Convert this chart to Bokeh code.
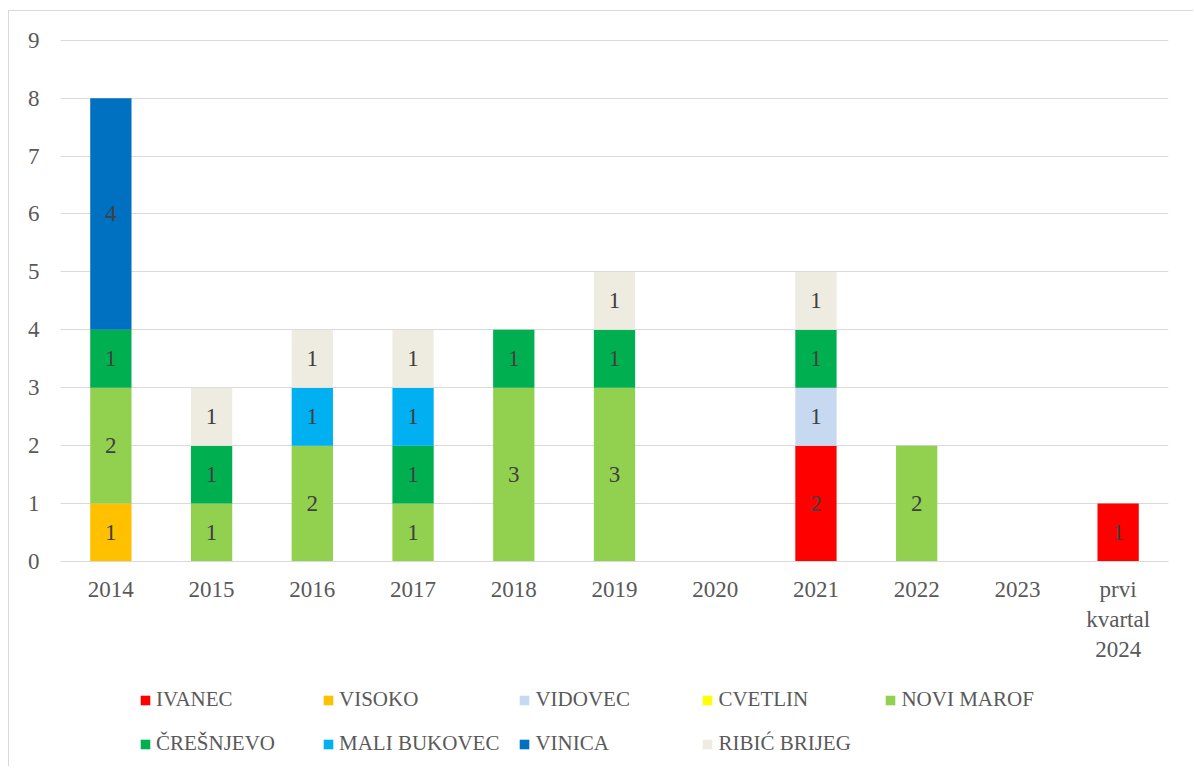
from bokeh.plotting import figure
from bokeh.layouts import column
from bokeh.models import ColumnDataSource, FactorRange, Range1d, Legend, LegendItem, FixedTicker
from bokeh.embed import file_html
from bokeh.resources import INLINE
from bokeh.core.properties import value

categories = ["2014", "2015", "2016", "2017", "2018", "2019", "2020", "2021", "2022", "2023",
              "prvi\nkvartal\n2024"]
series_names = ["IVANEC", "VISOKO", "VIDOVEC", "CVETLIN", "NOVI MAROF",
                "ČREŠNJEVO", "MALI BUKOVEC", "VINICA", "RIBIĆ BRIJEG"]
ivanec       = [0, 0, 0, 0, 0, 0, 0, 2, 0, 0, 1]
visoko       = [1, 0, 0, 0, 0, 0, 0, 0, 0, 0, 0]
vidovec      = [0, 0, 0, 0, 0, 0, 0, 1, 0, 0, 0]
cvetlin      = [0, 0, 0, 0, 0, 0, 0, 0, 0, 0, 0]
novi_marof   = [2, 1, 2, 1, 3, 3, 0, 0, 2, 0, 0]
cresnjevo    = [1, 1, 0, 1, 1, 1, 0, 1, 0, 0, 0]
mali_bukovec = [0, 0, 1, 1, 0, 0, 0, 0, 0, 0, 0]
vinica       = [4, 0, 0, 0, 0, 0, 0, 0, 0, 0, 0]
ribic_brijeg = [0, 1, 1, 1, 0, 1, 0, 1, 0, 0, 0]
colors = ["#FF0000", "#FFC000", "#C6D9F0", "#FFFF00", "#92D050",
          "#00B050", "#00B0F0", "#0070C0", "#EEECE1"]
y_ticks = [0, 1, 2, 3, 4, 5, 6, 7, 8, 9]

series_values = [ivanec, visoko, vidovec, cvetlin, novi_marof,
                 cresnjevo, mali_bukovec, vinica, ribic_brijeg]
keys = ["s%d" % i for i in range(len(series_names))]
data = {"cat": categories}
for k, v in zip(keys, series_values):
    data[k] = v
source = ColumnDataSource(data)

FONT = "Liberation Serif"

p = figure(x_range=FactorRange(factors=categories), y_range=Range1d(0, 9.03),
           width=1184, height=654, output_backend="svg", toolbar_location=None,
           min_border_left=51, min_border_top=27, min_border_right=25, min_border_bottom=104)
p.outline_line_color = None
p.background_fill_color = "white"

renderers = p.vbar_stack(keys, x="cat", width=0.41, color=colors, source=source, line_color=None)

# data labels
lx, ly, lt = [], [], []
for i, cat in enumerate(categories):
    bottom = 0
    for vals in series_values:
        v = vals[i]
        if v:
            lx.append(cat)
            ly.append(bottom + v / 2)
            lt.append(str(v))
        bottom += v
p.text(x=lx, y=ly, text=lt, text_align="center", text_baseline="middle",
       text_font=value(FONT), text_font_size="23px", text_color="#404040")

p.xgrid.grid_line_color = None
p.ygrid.grid_line_color = "#d9d9d9"
p.ygrid.grid_line_width = 1
p.yaxis.ticker = FixedTicker(ticks=y_ticks)

p.yaxis.axis_line_color = None
p.yaxis.major_tick_line_color = None
p.yaxis.minor_tick_line_color = None
p.yaxis.major_tick_out = 0
p.yaxis.major_label_standoff = 21
p.xaxis.axis_line_color = "#d9d9d9"
p.xaxis.major_tick_line_color = None
p.xaxis.major_tick_out = 0
p.xaxis.major_label_standoff = 15
for ax in (p.xaxis, p.yaxis):
    ax.major_label_text_font = FONT
    ax.major_label_text_font_size = "23px"
    ax.major_label_text_color = "#595959"

# legend in a second figure below the chart (its bars lie outside the visible range)
p2 = figure(width=1184, height=101, output_backend="svg", toolbar_location=None,
            x_range=FactorRange(factors=categories), y_range=Range1d(100, 101),
            min_border_left=51, min_border_right=25, min_border_top=0, min_border_bottom=0)
p2.xaxis.visible = False
p2.yaxis.visible = False
p2.grid.visible = False
p2.outline_line_color = None
swatches = p2.vbar_stack(keys, x="cat", width=0.41, color=colors, source=source, line_color=None)
items = [LegendItem(label=n, renderers=[r]) for n, r in zip(series_names, swatches)]
legend = Legend(items=items, orientation="horizontal", ncols=5, location=(79, 10),
                label_text_font=FONT, label_text_font_size="21px", label_text_color="#595959",
                glyph_width=12, glyph_height=12, label_standoff=5, label_width=147,
                label_height=21, spacing=19, padding=0, margin=0,
                border_line_color=None, background_fill_alpha=0)
p2.add_layout(legend, "center")

layout = column(p, p2, spacing=0)
layout.styles = {"border-top": "1px solid #d9d9d9", "border-left": "1px solid #d9d9d9"}
layout.margin = (10, 0, 0, 8)

open("out.html", "w").write(file_html(layout, INLINE))
